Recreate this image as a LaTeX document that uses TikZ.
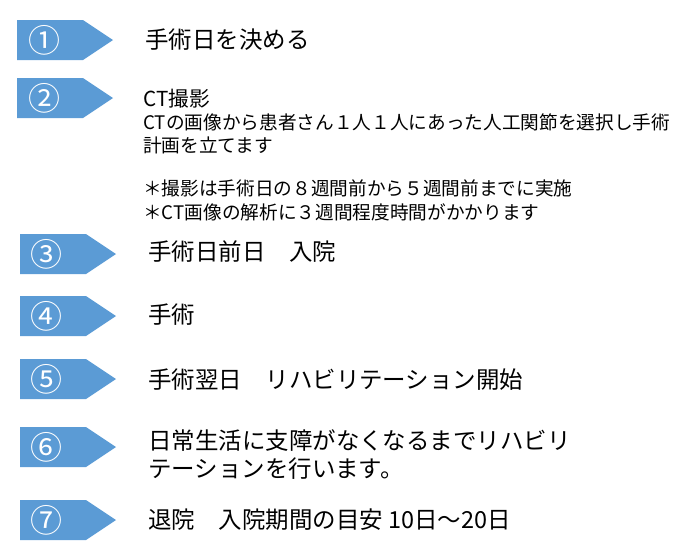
\documentclass[tikz,border=0pt]{standalone}
\usepackage{fontspec}
\setmainfont{Noto Sans CJK JP}
\usetikzlibrary{positioning}
\definecolor{stepblue}{HTML}{5B9BD5}
\tikzset{
  stepnum/.style={text=white, font=\fontsize{24}{24}\selectfont, anchor=center},
  steptext/.style={anchor=west, font=\fontsize{17.6}{20}\selectfont, inner sep=0pt},
  subtext/.style={anchor=west, font=\fontsize{14}{17}\selectfont, inner sep=0pt},
}
% pentagon arrow: left x, top y, number
\newcommand{\stepflag}[4]{%
  \fill[stepblue] (#1,#2) -- ++(66,0) -- ++(30,-20) -- ++(-30,-20) -- ++(-66,0) -- cycle;
  \node[stepnum] (#4) at (#1+27,#2-20) {#3};
}
\begin{document}
\begin{tikzpicture}[x=0.75pt,y=0.75pt]
  \useasboundingbox (0,0) rectangle (689,-557);

  % Arrows
  \stepflag{17}{-20}{①}{n1}
  \stepflag{17}{-78}{②}{n2}
  \stepflag{20}{-234}{③}{n3}
  \stepflag{20}{-296}{④}{n4}
  \stepflag{20}{-359}{⑤}{n5}
  \stepflag{20}{-427}{⑥}{n6}
  \stepflag{20}{-500}{⑦}{n7}

  % Texts
  \node[steptext] (t1) at (145,-40) {手術日を決める};
  \node[subtext, font=\fontsize{15.5}{17}\selectfont] (t2) at (143,-99) {CT撮影};
  \node[subtext] (t2a) at (143,-122) {CTの画像から患者さん１人１人にあった人工関節を選択し手術};
  \node[subtext] (t2b) at (143,-145) {計画を立てます};
  \node[subtext] (t2c) at (143,-188) {＊撮影は手術日の８週間前から５週間前までに実施};
  \node[subtext] (t2d) at (143,-212) {＊CT画像の解析に３週間程度時間がかかります};
  \node[steptext] (t3) at (148,-252) {手術日前日\quad 入院};
  \node[steptext] (t4) at (148,-315) {手術};
  \node[steptext] (t5) at (148,-380) {手術翌日\quad リハビリテーション開始};
  \node[steptext] (t6a) at (148,-441) {日常生活に支障がなくなるまでリハビリ};
  \node[steptext] (t6b) at (148,-469) {テーションを行います。};
  \node[steptext] (t7) at (148,-520) {退院\quad 入院期間の目安 10日～20日};
\end{tikzpicture}
\end{document}
